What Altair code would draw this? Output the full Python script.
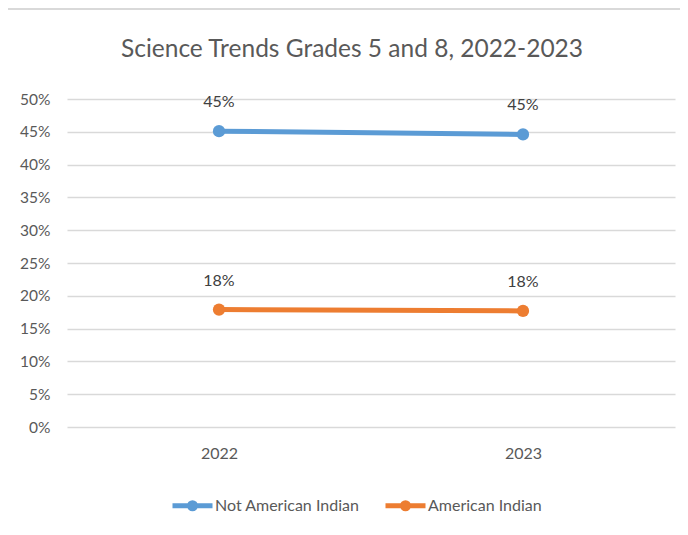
import altair as alt
import pandas as pd

years = ["2022", "2023"]
not_ai = [45.1, 44.6]
ai = [17.9, 17.7]
series_names = ["Not American Indian", "American Indian"]
colors = ["#5B9BD5", "#ED7D31"]
title_text = "Science Trends Grades 5 and 8, 2022-2023"

rows = []
for name, vals in zip(series_names, [not_ai, ai]):
    for y, v in zip(years, vals):
        rows.append({"Year": y, "Series": name, "Value": v / 100.0,
                     "Label": f"{round(v):d}%"})
df = pd.DataFrame(rows)
title_df = pd.DataFrame({"t": [title_text]})

FONT = "Lato, Open Sans, sans-serif"

legend_path = ("M-1,0 L1,0 M0,-0.15 A0.15,0.15 0 1,1 0,0.15 "
               "A0.15,0.15 0 1,1 0,-0.15")

x = alt.X("Year:N", title=None,
          scale=alt.Scale(paddingInner=0, paddingOuter=0),
          axis=alt.Axis(labelAngle=0, ticks=False, domain=False, grid=False,
                        labelFontSize=16, labelColor="#595959",
                        labelPadding=18, labelFont=FONT))
y = alt.Y("Value:Q", title=None,
          scale=alt.Scale(domain=[0, 0.5]),
          axis=alt.Axis(format=".0%", values=[i / 100 for i in range(0, 51, 5)],
                        ticks=False, domain=False, gridColor="#d9d9d9",
                        gridWidth=1.5, labelFontSize=15.5, labelColor="#595959",
                        labelPadding=17, labelFont=FONT))
color = alt.Color("Series:N", title=None,
                  scale=alt.Scale(domain=series_names, range=colors),
                  legend=alt.Legend(orient="none", legendX=103, legendY=384,
                                    direction="horizontal", padding=0,
                                    symbolType=legend_path, symbolSize=1600,
                                    symbolStrokeWidth=5, labelLimit=400,
                                    labelFontSize=16, labelColor="#595959",
                                    labelFont=FONT, labelOffset=0,
                                    columnPadding=15))

frame = alt.Chart(title_df).mark_rect(fill=None, stroke="#d9d9d9", strokeWidth=2,
                                      clip=False).encode(
    x=alt.value(-60), x2=alt.value(700), y=alt.value(-90), y2=alt.value(600))

title = alt.Chart(title_df).mark_text(fontSize=24.5, font=FONT, color="#595959",
                                      align="center", baseline="middle").encode(
    x=alt.value(285), y=alt.value(-49), text="t:N")

lines = alt.Chart(df).mark_line(strokeWidth=5, point=alt.OverlayMarkDef(size=150, filled=True)).encode(
    x=x, y=y, color=color, detail="Series:N")

labels = alt.Chart(df).mark_text(dy=-29, fontSize=16, color="#404040",
                                 font=FONT).encode(
    x=x, y=y, text="Label:N")

chart = alt.layer(frame, title, lines, labels).properties(
    width=608, height=328,
    autosize=alt.AutoSizeParams(type="none"),
    padding={"left": 59, "top": 91, "right": 5, "bottom": 120},
).configure_view(stroke=None)

chart.save("out.html", embed_options={"renderer": "svg", "actions": False})
